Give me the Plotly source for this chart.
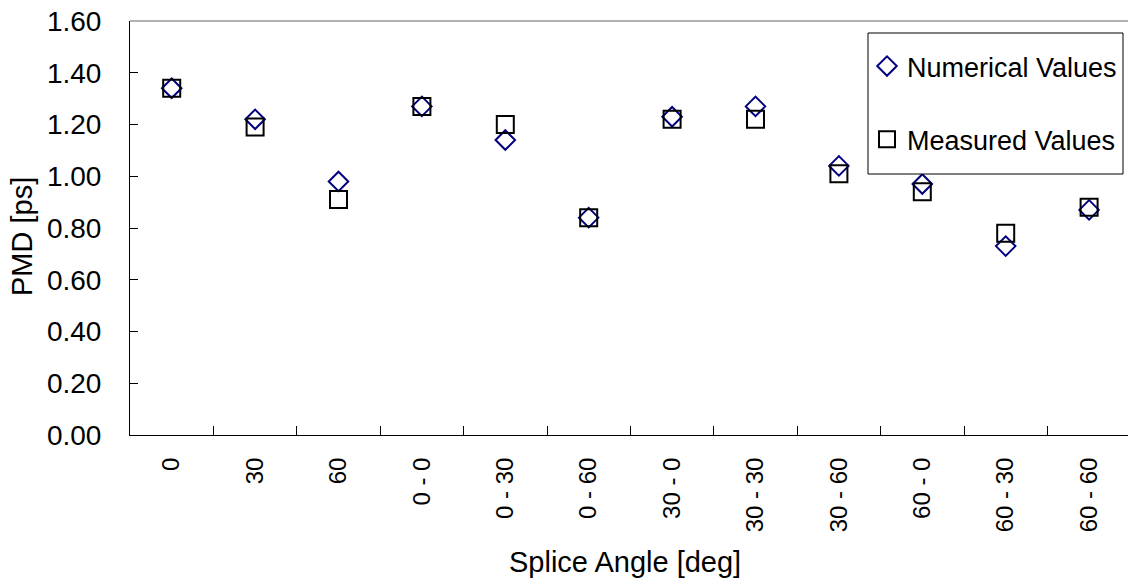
import plotly.graph_objects as go

categories = ["0", "30", "60", "0 - 0", "0 - 30", "0 - 60", "30 - 0", "30 - 30",
              "30 - 60", "60 - 0", "60 - 30", "60 - 60"]
numerical_values = [1.34, 1.22, 0.98, 1.27, 1.14, 0.84, 1.23, 1.27, 1.04, 0.97, 0.73, 0.87]
measured_values = [1.34, 1.19, 0.91, 1.27, 1.20, 0.84, 1.22, 1.22, 1.01, 0.94, 0.78, 0.88]
y_ticks = [0.0, 0.2, 0.4, 0.6, 0.8, 1.0, 1.2, 1.4, 1.6]

FONT = "Liberation Sans, Arial, sans-serif"
W, H = 1128, 583
ML, MR, MT, MB = 130, 0, 21, 148
PW = W - ML - MR
PH = H - MT - MB


def px_x(x):
    return (x - ML) / PW


def px_y(y):
    return 1 - (y - MT) / PH


fig = go.Figure()
fig.add_trace(go.Scatter(
    x=categories, y=numerical_values, mode="markers", name="Numerical Values",
    legendgroup="a",
    marker=dict(symbol="diamond-open", size=15, color="#000080",
                line=dict(width=2, color="#000080")),
))
fig.add_trace(go.Scatter(
    x=categories, y=measured_values, mode="markers", name="Measured Values",
    legendgroup="b",
    marker=dict(symbol="square-open", size=17, color="#000000",
                line=dict(width=2, color="#000000")),
))

fig.update_layout(
    width=W, height=H,
    margin=dict(l=ML, r=MR, t=MT, b=MB, pad=0, autoexpand=False),
    paper_bgcolor="white", plot_bgcolor="white",
    font=dict(family=FONT, color="black"),
    showlegend=True,
    legend=dict(
        x=px_x(1122), xanchor="right", y=px_y(42), yanchor="top",
        bgcolor="rgba(0,0,0,0)", borderwidth=0,
        font=dict(size=27, family=FONT, color="black"),
        traceorder="grouped", tracegroupgap=35,
        itemsizing="trace",
    ),
    xaxis=dict(
        type="category", categoryorder="array", categoryarray=categories,
        range=[-0.5, -0.5 + PW / 83.4],
        showline=True, linecolor="black", linewidth=1,
        ticks="inside", ticklen=9, tickcolor="black", tickwidth=1,
        tickson="boundaries",
        tickangle=-90, tickfont=dict(size=24, family=FONT, color="black"),
        ticklabelstandoff=12, automargin=False,
        showgrid=False, zeroline=False,
    ),
    yaxis=dict(
        range=[0, 1.6], tickvals=y_ticks, tickformat=".2f",
        showline=True, linecolor="black", linewidth=1,
        ticks="inside", ticklen=8, tickcolor="black", tickwidth=1,
        tickfont=dict(size=28, family=FONT, color="black"),
        ticklabelstandoff=22, automargin=False,
        showgrid=False, zeroline=False,
    ),
    shapes=[
        dict(type="line", xref="paper", yref="paper", x0=0, x1=1, y0=1, y1=1,
             line=dict(color="#999999", width=1.5)),
        dict(type="rect", xref="paper", yref="paper", layer="above",
             x0=px_x(868), x1=px_x(1123), y0=px_y(174), y1=px_y(33),
             fillcolor="white", line=dict(color="black", width=1)),
    ],
    annotations=[
        dict(text="Splice Angle [deg]", xref="paper", yref="paper",
             x=px_x(625), y=px_y(562),
             xanchor="center", yanchor="middle", showarrow=False,
             font=dict(size=29, family=FONT, color="black")),
        dict(text="PMD [ps]", xref="paper", yref="paper",
             x=px_x(22), y=px_y(237),
             xanchor="center", yanchor="middle", textangle=-90, showarrow=False,
             font=dict(size=29, family=FONT, color="black")),
    ],
)

fig.write_html("out.html", config={"displayModeBar": False},
               post_script="document.body.style.margin='0';")
